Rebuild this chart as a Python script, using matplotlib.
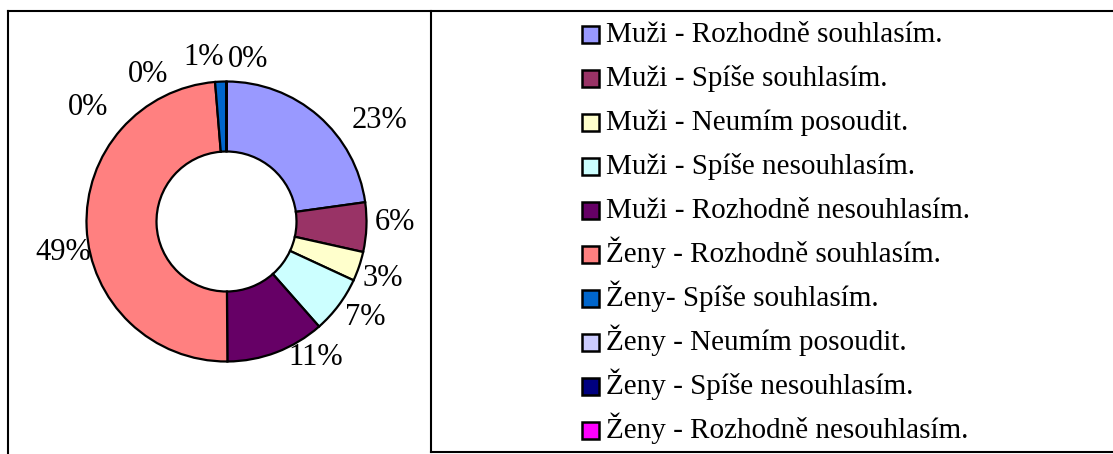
import matplotlib
matplotlib.use("Agg")
import matplotlib.pyplot as plt
import numpy as np
from matplotlib.lines import Line2D
from matplotlib.patches import Rectangle

# data
labels = [
    "Muži - Rozhodně souhlasím.",
    "Muži - Spíše souhlasím.",
    "Muži - Neumím posoudit.",
    "Muži - Spíše nesouhlasím.",
    "Muži - Rozhodně nesouhlasím.",
    "Ženy - Rozhodně souhlasím.",
    "Ženy- Spíše souhlasím.",
    "Ženy - Neumím posoudit.",
    "Ženy - Spíše nesouhlasím.",
    "Ženy - Rozhodně nesouhlasím.",
]
values = [22.8, 5.7, 3.4, 6.6, 11.4, 48.8, 1.3, 0, 0, 0]
colors = ["#9999FF", "#993366", "#FFFFCC", "#CCFFFF", "#660066",
          "#FF8080", "#0066CC", "#CCCCFF", "#000080", "#FF00FF"]

# label placement (Excel "best fit"): angle nudge in degrees, distance in radii
label_nudge = [15.5, -2.1, 1.2, -2.0, -12.3, -8.1, -5.5, 7.5, -28.0, -50.7]
label_dist = [1.31, 1.20, 1.19, 1.21, 1.16, 1.19, 1.18, 1.17, 1.19, 1.28]

W, H = 1113, 454
fig = plt.figure(figsize=(W / 100, H / 100), dpi=100)
plt.rcParams['font.family'] = ['Liberation Serif', 'DejaVu Serif']


def fx(px):
    return px / W


def fy(py):
    return 1 - py / H


# pie axes: 1 data unit = 140 px, centre at (226.5, 221.5) px
R = 140.0
cx, cy = 226.5, 221.5
ax = fig.add_axes([0, 0, fx(431), 1])
ax.pie(values, colors=colors, startangle=90, counterclock=False, radius=1,
       wedgeprops=dict(width=0.5, edgecolor='black', linewidth=1.6))
ax.set_xlim(-cx / R, (431 - cx) / R)
ax.set_ylim((cy - H) / R, cy / R)
ax.set_aspect('auto')
ax.axis('off')

total = sum(values)
cum = np.cumsum([0] + values)
for i, v in enumerate(values):
    mid = (cum[i] + v / 2) / total * 360 + label_nudge[i]
    a = np.deg2rad(mid)
    d = label_dist[i]
    ax.text(d * np.sin(a), d * np.cos(a), f"{round(v / total * 100)}%",
            ha='center', va='center', fontsize=22, color='black')

# frame lines
lw = 1.5
fig.add_artist(Line2D([fx(8), 1], [fy(11), fy(11)], color='black', lw=lw))
fig.add_artist(Line2D([fx(8), fx(8)], [fy(11), 0], color='black', lw=lw))
fig.add_artist(Line2D([fx(431), fx(431)], [fy(11), fy(452)], color='black', lw=lw))
fig.add_artist(Line2D([fx(431), 1], [fy(452), fy(452)], color='black', lw=lw))

# legend
for i, lab in enumerate(labels):
    yc = 34 + 44 * i
    fig.add_artist(Rectangle((fx(582), fy(yc + 8.5)), 17 / W, 17 / H,
                             facecolor=colors[i], edgecolor='black', lw=1.8))
    fig.text(fx(606), fy(yc + 8.5), lab, fontsize=21, va='baseline', ha='left')

fig.savefig("out.png", dpi=100)
